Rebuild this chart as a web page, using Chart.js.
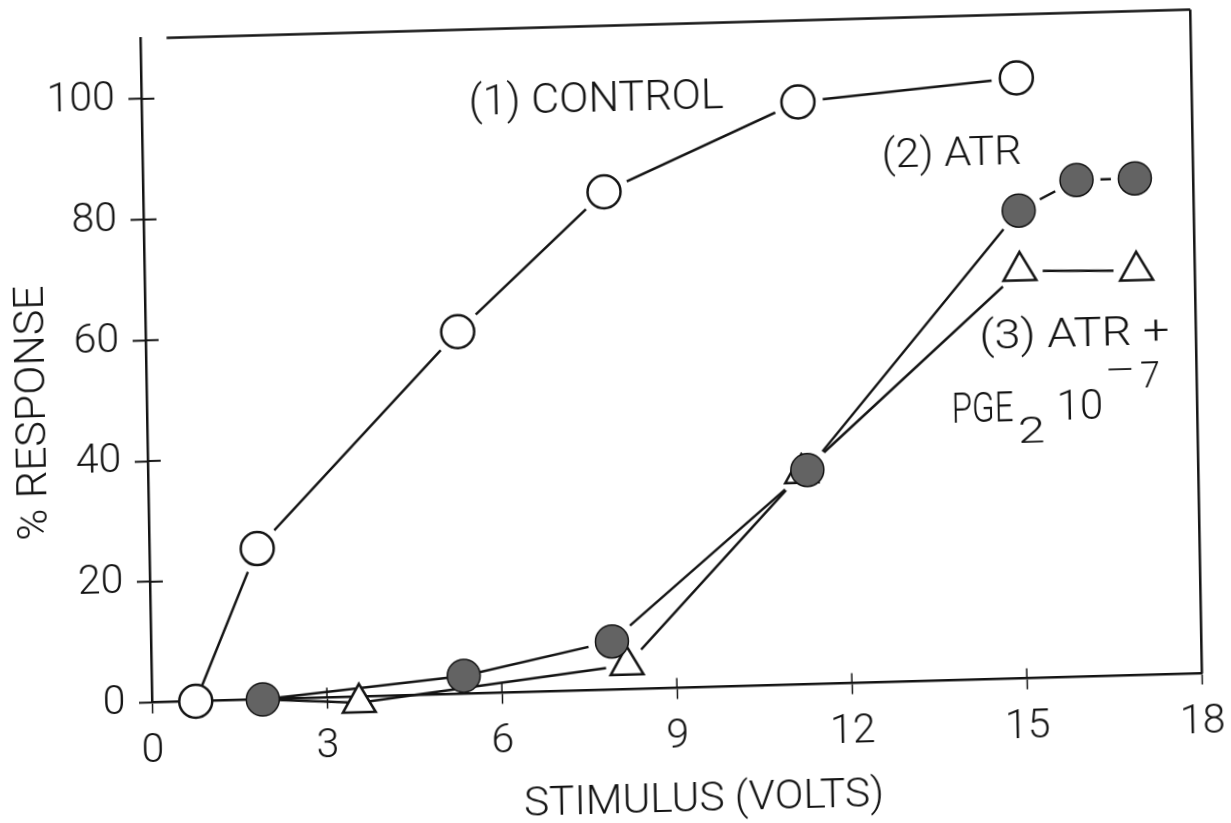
<!DOCTYPE html>
<html>
<head>
<meta charset="utf-8">
<script src="https://cdn.jsdelivr.net/npm/chart.js@4.4.1/dist/chart.umd.min.js"></script>
<style>
  html, body { margin: 0; padding: 0; background: #fff; width: 1231px; height: 823px; overflow: hidden; }
  /* the plotted sheet sits slightly askew on the page */
  #sheet {
    position: absolute; left: 0; top: 0; width: 1280px; height: 880px;
    transform-origin: 152px 702.5px;
    transform: matrix(0.99966, -0.02761, 0.01756, 0.99985, 0, 0);
  }
  canvas { display: block; }
</style>
</head>
<body>
<div id="sheet"><canvas id="chart" width="1280" height="880"></canvas></div>
<script>
// Stimulus (volts) vs % response
const xTickValues = [0, 3, 6, 9, 12, 15, 18];
const yTickValues = [0, 20, 40, 60, 80, 100];

const controlVolts = [0.75, 1.85, 5.35, 7.9, 11.25, 15];
const controlResp  = [0, 25, 60, 82.5, 96.5, 99.5];

const atrVolts = [1.9, 5.35, 7.9, 11.3, 15, 16, 17];
const atrResp  = [0, 3, 8, 35.5, 77.5, 82.3, 82.3];

const atrPgeVolts = [1.9, 3.55, 8.15, 11.2, 15, 17];
const atrPgeResp  = [0, -1, 4, 35, 67.5, 67];

const INK = '#141414';
const FONT = 'Roboto, "Liberation Sans", Arial, sans-serif';
const AXIS_X = 152;          // left edge of plot area (px)
const AXIS_Y = 702.5;        // bottom edge of plot area (px)
const PLOT_W = 1050.3;
const PLOT_H = 664;
const CANVAS_W = 1280, CANVAS_H = 880;

function points(xs, ys) { return xs.map((x, i) => ({ x, y: ys[i] })); }

// white disc behind each marker, so connecting lines stop short of it;
// kept clear of the x axis
function haloRadius(base) {
  return (c) => {
    if (!c.raw) return 0;
    const ys = c.chart.scales.y;
    const d = ys.getPixelForValue(0) - ys.getPixelForValue(c.raw.y);
    return Math.max(0, Math.min(base, d - 3));
  };
}

const series = [
  { label: '(1) CONTROL', xs: controlVolts, ys: controlResp, style: 'circle', r: 16.5, fill: '#ffffff', bw: 2.5, halo: 25, order: 1 },
  { label: '(2) ATR', xs: atrVolts, ys: atrResp, style: 'circle', r: 16.5, fill: '#636363', bw: 1.5, halo: 24, order: 2 },
  // the first point of this curve coincides with the first ATR point and is covered by it
  { label: '(3) ATR + PGE2 10-7', xs: atrPgeVolts, ys: atrPgeResp, style: 'triangle', r: 19, fill: '#ffffff', bw: 2.5, halo: 23, order: 3,
    hiddenFirst: true },
];

const datasets = [];
series.forEach(s => {
  const data = points(s.xs, s.ys);
  datasets.push({ label: s.label, data, showLine: true, borderColor: INK, borderWidth: 2.5,
    pointRadius: 0, order: 10, clip: false });
  datasets.push({ label: s.label + ' halo', data, showLine: false, pointStyle: 'circle',
    pointRadius: haloRadius(s.halo), pointBackgroundColor: '#ffffff', pointBorderColor: '#ffffff',
    pointBorderWidth: 0, order: 5, clip: false });
  datasets.push({ label: s.label + ' marker', data, showLine: false, pointStyle: s.style,
    pointRadius: s.hiddenFirst ? (c => (c.dataIndex === 0 ? 0 : s.r)) : s.r,
    pointBackgroundColor: s.fill, pointBorderColor: INK,
    pointBorderWidth: s.bw, order: s.order, clip: false });
});

// ticks that cross the axes, plus the upper and right frame lines
const frame = {
  id: 'frame',
  beforeDatasetsDraw(chart) {
    const { ctx, scales: { x, y } } = chart;
    const seg = (x1, y1, x2, y2) => { ctx.beginPath(); ctx.moveTo(x1, y1); ctx.lineTo(x2, y2); ctx.stroke(); };
    ctx.save();
    ctx.strokeStyle = INK;
    ctx.lineCap = 'butt';
    const x0 = x.getPixelForValue(0), y0 = y.getPixelForValue(0);
    ctx.lineWidth = 2;
    yTickValues.forEach(v => { if (v > 0) { const p = y.getPixelForValue(v); seg(x0, p, x0 + 13, p); } });
    ctx.lineWidth = 1.5;
    xTickValues.forEach(v => { if (v > 0 && v < 18) { const p = x.getPixelForValue(v); seg(p, y0, p, y0 - 10); } });
    ctx.lineWidth = 2.5;
    seg(x.getPixelForValue(0.45), y.getPixelForValue(110), x.getPixelForValue(18), y.getPixelForValue(110));
    seg(x.getPixelForValue(18), y.getPixelForValue(110), x.getPixelForValue(18), y0);
    ctx.restore();
  }
};

// curve labels and axis titles
const notes = [
  { text: '(1) CONTROL', x: 5.61, y: 95.8, size: 42, width: 255 },
  { text: '(2) ATR', x: 12.67, y: 85.2, size: 41, width: 140 },
  { text: '(3) ATR +', x: 14.29, y: 54.8, size: 40, width: 190 },
];
const pgeAt = { x: 13.79, y: 42.6 };
const pgeParts = [
  { text: 'PGE', dx: 0, dy: 0, size: 43, width: 62 },
  { text: '2', dx: 66, dy: 22, size: 37, width: 27 },
  { text: '10', dx: 105, dy: 0, size: 42 },
  { text: '\u2212', dx: 153, dy: -36, size: 36, width: 32 },
  { text: '7', dx: 189, dy: -30, size: 36 },
];

function putText(ctx, text, px, py, size, width, opts = {}) {
  ctx.save();
  ctx.font = `300 ${size}px ${FONT}`;
  ctx.fillStyle = INK;
  ctx.textAlign = opts.align || 'left';
  ctx.textBaseline = opts.baseline || 'alphabetic';
  ctx.translate(px, py);
  if (opts.rotate) ctx.rotate(opts.rotate);
  if (width) ctx.scale(width / ctx.measureText(text).width, 1);
  ctx.fillText(text, 0, 0);
  ctx.restore();
}

const labels = {
  id: 'labels',
  afterDraw(chart) {
    const { ctx, scales: { x, y }, chartArea } = chart;
    notes.forEach(n => putText(ctx, n.text, x.getPixelForValue(n.x), y.getPixelForValue(n.y), n.size, n.width));
    const bx = x.getPixelForValue(pgeAt.x), by = y.getPixelForValue(pgeAt.y);
    pgeParts.forEach(p => putText(ctx, p.text, bx + p.dx, by + p.dy, p.size, p.width));
    putText(ctx, 'STIMULUS (VOLTS)', x.getPixelForValue(9.43), chartArea.bottom + 113.5, 40, 360,
      { align: 'center', baseline: 'middle' });
    putText(ctx, '% RESPONSE', 39.1, y.getPixelForValue(48.5), 42, 255,
      { align: 'center', baseline: 'middle', rotate: -Math.PI / 2 });
  }
};

const tickFont = { family: FONT, size: 41, weight: '300', lineHeight: 1 };

new Chart(document.getElementById('chart'), {
  type: 'scatter',
  data: { datasets },
  options: {
    responsive: false,
    devicePixelRatio: 1,
    animation: false,
    events: [],
    layout: { padding: { left: 0, top: AXIS_Y - PLOT_H, right: CANVAS_W - AXIS_X - PLOT_W, bottom: 0 } },
    plugins: { legend: { display: false }, tooltip: { enabled: false }, title: { display: false } },
    scales: {
      x: {
        type: 'linear', min: 0, max: 18,
        ticks: { stepSize: 3, color: INK, font: tickFont, padding: 18, maxRotation: 0, autoSkip: false },
        grid: { drawOnChartArea: false, tickLength: 11, tickWidth: 1.5, tickColor: INK, color: INK },
        border: { display: true, color: INK, width: 2.5 },
        afterBuildTicks: sc => { sc.ticks = xTickValues.map(v => ({ value: v })); },
        afterFit: sc => { sc.height = CANVAS_H - AXIS_Y; }
      },
      y: {
        type: 'linear', min: 0, max: 110,
        ticks: { color: INK, font: tickFont, padding: 13.4, includeBounds: false },
        grid: { drawOnChartArea: false, tickLength: 13, tickWidth: 2, tickColor: INK, color: INK },
        border: { display: true, color: INK, width: 2.5 },
        afterBuildTicks: sc => { sc.ticks = yTickValues.map(v => ({ value: v })); },
        afterFit: sc => { sc.width = AXIS_X; }
      }
    }
  },
  plugins: [frame, labels]
});
</script>
</body>
</html>
